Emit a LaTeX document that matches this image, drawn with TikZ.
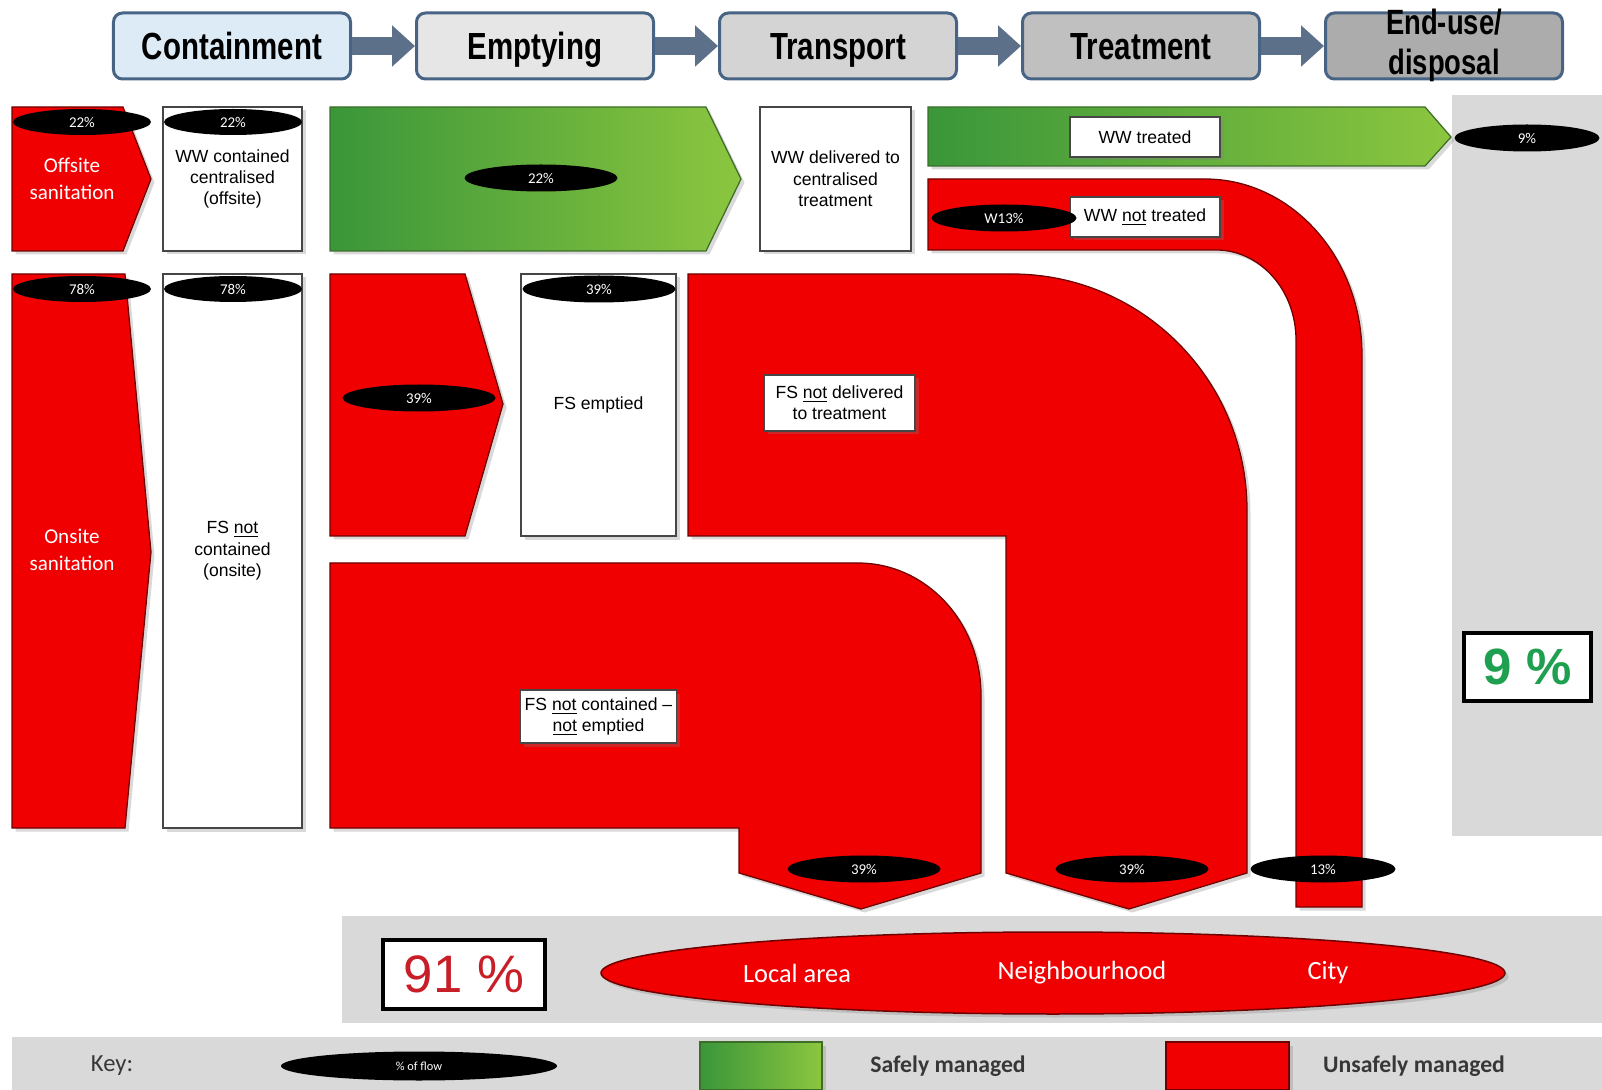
\documentclass[tikz,border=0pt]{standalone}
\usepackage{fontspec}
\setmainfont{Liberation Sans}
\newfontfamily\calfont{Carlito}
\newfontfamily\hdrfont[FakeStretch=0.78]{Liberation Sans}
\usetikzlibrary{shapes.geometric,shadows,arrows.meta}

\definecolor{redflow}{RGB}{240,0,0}
\definecolor{redline}{RGB}{110,0,0}
\definecolor{safeL}{RGB}{58,150,58}
\definecolor{safeR}{RGB}{140,198,63}
\definecolor{safeline}{RGB}{60,110,40}
\definecolor{panel}{RGB}{217,217,217}
\definecolor{stgline}{RGB}{72,100,133}
\definecolor{stgarrow}{RGB}{92,112,138}
\definecolor{hdrA}{RGB}{220,235,246}
\definecolor{hdrB}{RGB}{230,230,230}
\definecolor{hdrC}{RGB}{212,212,212}
\definecolor{hdrD}{RGB}{192,192,192}
\definecolor{hdrE}{RGB}{172,172,172}
\definecolor{boxline}{RGB}{70,70,70}
\definecolor{pcred}{RGB}{200,30,40}
\definecolor{pcgreen}{RGB}{30,160,80}
\definecolor{keygrey}{RGB}{55,55,55}

\tikzset{
	softshadow/.style={drop shadow={opacity=0.3,shadow xshift=0.7mm,shadow yshift=-0.7mm}},
	stage/.style={draw=stgline, line width=0.6mm, rounded corners=1.8mm, minimum width=47.4mm, minimum height=13.2mm,
		inner sep=0pt, align=center, text height=15.5pt, text depth=0pt,
		font=\hdrfont\bfseries\fontsize{21.5}{23}\selectfont},
	stagearrow/.style={draw=stgarrow, line width=3.6mm, -{Triangle[length=4.6mm,width=8mm]}},
	unsafeflow/.style={fill=redflow, draw=redline, line width=0.25mm, softshadow},
	safeflow/.style={left color=safeL, right color=safeR, draw=safeline, line width=0.25mm, softshadow},
	wbox/.style={draw=boxline, fill=white, line width=0.3mm, align=center, inner sep=0.8mm,
		font=\fontsize{10}{12.2}\selectfont, softshadow},
	pct/.style={ellipse, fill=black, text=white, inner sep=0pt, minimum width=29mm, minimum height=5.4mm,
		font=\calfont\fontsize{8.5}{9}\selectfont},
	wtext/.style={text=white, align=center, font=\calfont\fontsize{12}{15.5}\selectfont},
	keytext/.style={text=keygrey, font=\calfont\bfseries\fontsize{13.5}{15}\selectfont},
}

\begin{document}
\begin{tikzpicture}[x=0.2mm, y=-0.2mm]
	\useasboundingbox (0,0) rectangle (1602,1090);

	% grey panels
	\fill[panel] (1452,95) rectangle (1602,836);
	\fill[panel] (342,916) rectangle (1602,1023);
	\fill[panel] (12,1037) rectangle (1602,1090);

	% service chain
	\node[stage, fill=hdrA] (cont) at (232,46) {Containment};
	\node[stage, fill=hdrB] (empt) at (535,46) {Emptying};
	\node[stage, fill=hdrC] (trans) at (838,46) {Transport};
	\node[stage, fill=hdrD] (treat) at (1141,46) {Treatment};
	\node[stage, fill=hdrE, font=\hdrfont\bfseries\fontsize{20}{23}\selectfont] (endu) at (1444,46)
		{\raisebox{-8.75pt}[0pt][0pt]{\begin{tabular}[b]{@{}c@{}}End-use/\\disposal\end{tabular}}};
	\foreach \a/\b in {cont/empt,empt/trans,trans/treat,treat/endu}{
		\draw[stagearrow] (\a) -- (\b);
	}

	% offsite row
	\draw[unsafeflow] (12,107) -- (123,107) -- (151,179) -- (123,251) -- (12,251) -- cycle;
	\draw[safeflow] (330,107) -- (706,107) -- (741,179) -- (706,251) -- (330,251) -- cycle;
	\draw[safeflow] (928,107) -- (1425,107) -- (1451,137) -- (1425,166) -- (928,166) -- cycle;
	\draw[unsafeflow] (928,179) -- (1205,179) .. controls (1292,179) and (1362,258) .. (1362,355)
		-- (1362,907) -- (1296,907) -- (1296,340) .. controls (1296,290) and (1260,250) .. (1216,250)
		-- (928,250) -- cycle;

	% onsite row
	\draw[unsafeflow] (12,274) -- (125,274) -- (151,552) -- (125,828) -- (12,828) -- cycle;
	\draw[unsafeflow] (330,274) -- (465,274) -- (503,404) -- (465,536) -- (330,536) -- cycle;
	\draw[unsafeflow] (688,274) -- (1012,274) .. controls (1142,274) and (1247,380) .. (1247,510)
		-- (1247,873) -- (1129,909) -- (1006,873) -- (1006,536) -- (688,536) -- cycle;
	\draw[unsafeflow] (330,563) -- (858,563) .. controls (926,563) and (981,622) .. (981,695)
		-- (981,873) -- (861,909) -- (739,873) -- (739,828) -- (330,828) -- cycle;

	% boxes
	\node[wbox, minimum width=27.8mm, minimum height=28.8mm] (wwc) at (232.5,179) {WW contained\\centralised\\(offsite)};
	\node[wbox, minimum width=30.2mm, minimum height=28.8mm] (wwd) at (835.5,179) {WW delivered to\\centralised\\treatment};
	\node[wbox, minimum width=27.8mm, minimum height=110.8mm] (fsnc) at (232.5,551) {FS \underline{not}\\contained\\(onsite)};
	\node[wbox, minimum width=31mm, minimum height=52.4mm] (fse) at (598.5,405) {FS emptied};
	\node[wbox, minimum width=30mm, minimum height=8mm] (wwt) at (1145,137) {WW treated};
	\node[wbox, minimum width=30mm, minimum height=8mm] (wwnt) at (1145,217) {WW \underline{not} treated};
	\node[wbox, minimum width=30.2mm, minimum height=11.2mm] (fsnd) at (839.5,403) {FS \underline{not} delivered\\to treatment};
	\node[wbox, minimum width=31mm, minimum height=10.6mm] (fsnn) at (598.5,716.5) {FS \underline{not} contained --\\\underline{not} emptied};

	\node[wtext] (offs) at (72,179) {Offsite\\sanitation};
	\node[wtext] (ons) at (72,550) {Onsite\\sanitation};

	% flow shares
	\node[pct, minimum width=27.6mm, minimum height=5.2mm] (p1) at (82,122) {22\%};
	\node[pct, minimum width=27.6mm, minimum height=5.2mm] (p2) at (233,122) {22\%};
	\node[pct, minimum width=30.6mm] (p3) at (541,178) {22\%};
	\node[pct] (p4) at (1527,138) {9\%};
	\node[pct] (p5) at (1004,218) {W13\%};
	\node[pct, minimum width=27.6mm, minimum height=5.2mm] (p6) at (82,289) {78\%};
	\node[pct, minimum width=27.6mm, minimum height=5.2mm] (p7) at (233,289) {78\%};
	\node[pct, minimum width=30.6mm] (p8) at (419,398) {39\%};
	\node[pct, minimum width=30.6mm] (p9) at (599,289) {39\%};
	\node[pct, minimum width=30.6mm] (p10) at (864,869) {39\%};
	\node[pct, minimum width=30.6mm] (p11) at (1132,869) {39\%};
	\node[pct] (p12) at (1323,869) {13\%};

	% totals
	\node[draw=black, line width=0.8mm, fill=white, minimum width=25.4mm, minimum height=13.6mm, text=pcgreen,
		font=\bfseries\fontsize{29}{29}\selectfont] (safe) at (1527.5,667) {9 \%};
	\node[draw=black, line width=0.8mm, fill=white, minimum width=32.4mm, minimum height=13.8mm, text=pcred,
		font=\fontsize{30}{30}\selectfont] (unsafe) at (464,974.5) {91 \%};
	\node[ellipse, fill=redflow, draw=redline, line width=0.3mm, minimum width=180.8mm, minimum height=16.4mm, softshadow] (area) at (1053,973) {};
	\node[wtext, font=\calfont\fontsize{15}{17}\selectfont] (loc) at (797,973) {Local area};
	\node[wtext, font=\calfont\fontsize{15}{17}\selectfont] (nbh) at (1082,973) {Neighbourhood};
	\node[wtext, font=\calfont\fontsize{15}{17}\selectfont] (city) at (1328,973) {City};

	% key
	\node[keytext, font=\calfont\fontsize{14}{16}\selectfont] (key) at (112,1066) {Key:};
	\node[pct, minimum width=55.2mm, minimum height=5.8mm, font=\calfont\fontsize{7}{8}\selectfont] (kp) at (419,1066) {\% of flow};
	\draw[safeflow] (700,1042) rectangle (822,1090);
	\node[keytext] (ks) at (948,1066) {Safely managed};
	\draw[unsafeflow] (1166,1042) rectangle (1289,1090);
	\node[keytext] (ku) at (1414,1066) {Unsafely managed};

\end{tikzpicture}
\end{document}
